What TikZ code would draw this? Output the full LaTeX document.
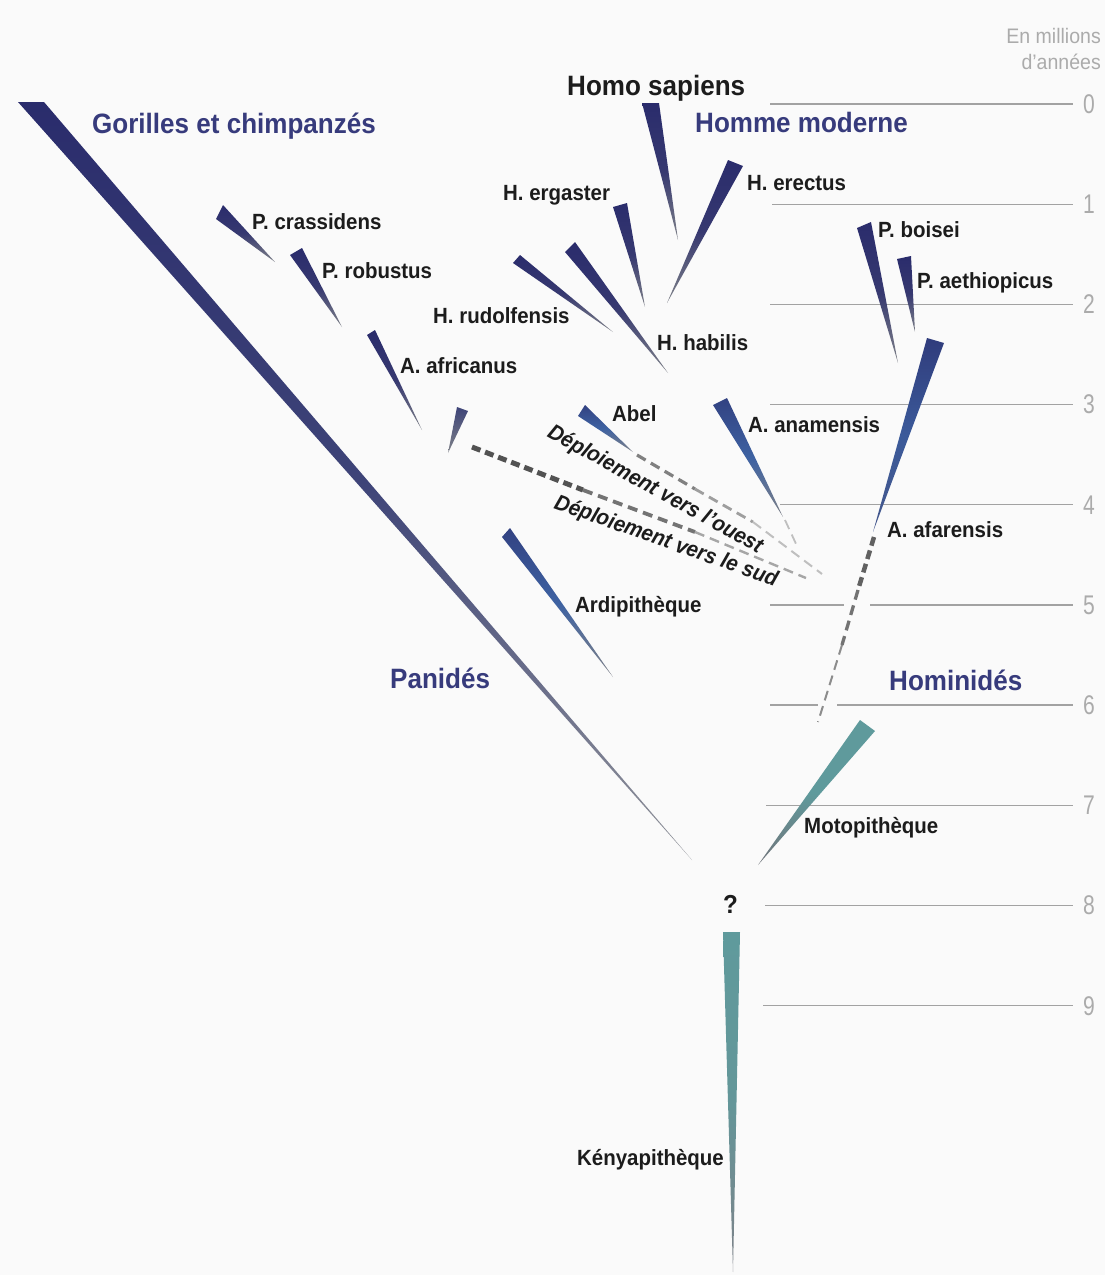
\documentclass[tikz,border=0pt]{standalone}
\usepackage{fontspec}
\setmainfont{Liberation Sans}[FakeStretch=0.93]
\newfontfamily\numfont{Liberation Sans}[FakeStretch=0.78]
\definecolor{bgc}{HTML}{FAFAFA}
\definecolor{navy}{HTML}{2A2C6C}
\definecolor{navymid}{HTML}{3E4478}
\definecolor{midblue}{HTML}{3E62A2}
\definecolor{tealc}{HTML}{5F9A9C}
\definecolor{tipgrey}{HTML}{7E8188}
\definecolor{labblue}{HTML}{373B7C}
\definecolor{labblack}{HTML}{1C1C1C}
\definecolor{scalegrey}{HTML}{ABABAB}
\definecolor{linegrey}{HTML}{A2A2A2}
\tikzset{
  lab/.style={font=\bfseries\fontsize{22}{24}\selectfont, text=labblack, inner sep=0pt, anchor=base west},
  biglab/.style={font=\bfseries\fontsize{28}{30}\selectfont, text=labblue, inner sep=0pt, anchor=base west},
  deplab/.style={font=\bfseries\itshape\fontsize{22}{24}\selectfont, text=labblack, inner sep=0pt},
  scalenum/.style={font=\numfont\fontsize{27}{29}\selectfont, text=scalegrey, inner sep=0pt},
  scaleline/.style={draw=linegrey, line width=1.3pt},
  unitlab/.style={font=\fontsize{21}{23}\selectfont, text=scalegrey, inner sep=0pt, anchor=east},
  navywedge/.style={top color=navy, bottom color=tipgrey, middle color=navy!85!tipgrey},
  bluewedge/.style={top color=navy!60!midblue, bottom color=tipgrey, middle color=midblue},
  tealwedge/.style={top color=tealc, bottom color=tipgrey!90!black, middle color=tealc},
  dashA/.style={line width=5pt, draw=#1, dash pattern=on 9pt off 5pt},
  dashB/.style={line width=3pt, draw=#1, dash pattern=on 10pt off 6pt},
  dashC/.style={line width=2pt, draw=#1, dash pattern=on 10pt off 6pt},
}
\begin{document}
\begin{tikzpicture}[x=1pt,y=-1pt]
\fill[bgc] (0,0) rectangle (1105,1275);
\useasboundingbox (0,0) rectangle (1105,1275);

% ---------- time scale ----------
\node[unitlab] (u1) at (1101,36) {En millions};
\node[unitlab] (u2) at (1101,62) {d'années};
\foreach \k/\xs in {0/770,1/772,2/770,3/770,4/780,7/766,8/765,9/763}{
  \node[scalenum] (s\k) at (1089,{104+100.2*\k}) {\k};
  \draw[scaleline, shorten >=10pt] (\xs,{104+100.2*\k}) -- (s\k.west);
}
\node[scalenum] (s5) at (1089,605) {5};
\draw[scaleline] (770,605) -- (844,605);
\draw[scaleline, shorten >=10pt] (870,605) -- (s5.west);
\node[scalenum] (s6) at (1089,705) {6};
\draw[scaleline] (770,705) -- (818,705);
\draw[scaleline, shorten >=10pt] (837,705) -- (s6.west);

% ---------- wedges ----------
% Gorilles et chimpanzes
\shade[top color=navy, bottom color=tipgrey!85!white, middle color=navymid] (18,102) -- (44,102) -- (692,860) -- cycle;
% Paranthropes and australopithecines (left)
\shade[navywedge] (223,205) -- (216,219) -- (275,262) -- cycle;
\shade[navywedge] (290,255) -- (302,248) -- (342,327) -- cycle;
\shade[navywedge] (367,335) -- (375,330) -- (422,430) -- cycle;
\shade[top color=navymid, bottom color=tipgrey] (457,407) -- (468,411) -- (448,453) -- cycle;
% Homo
\shade[navywedge] (642,103) -- (659,103) -- (678,240) -- cycle;
\shade[navywedge] (728,160) -- (743,166) -- (667,303) -- cycle;
\shade[navywedge] (613,207) -- (627,203) -- (645,307) -- cycle;
\shade[navywedge] (513,263) -- (520,255) -- (613,332) -- cycle;
\shade[navywedge] (565,252) -- (575,242) -- (668,373) -- cycle;
% Paranthropes (right)
\shade[navywedge] (857,228) -- (871,222) -- (898,363) -- cycle;
\shade[navywedge] (897,259) -- (911,256) -- (915,332) -- cycle;
% blue wedges
\shade[bluewedge] (585,405) -- (578,416) -- (633,452) -- cycle;
\shade[bluewedge] (713,405) -- (727,398) -- (783,517) -- cycle;
\shade[bluewedge] (502,537) -- (510,528) -- (613,677) -- cycle;
\shade[top color=navy!70!midblue, bottom color=navy!40!midblue!80!tipgrey, middle color=midblue!85!navy] (927,338) -- (944,343) -- (873,532) -- cycle;
% teal wedges
\shade[tealwedge] (860,720) -- (875,731) -- (758,865) -- cycle;
\shade[top color=tealc, bottom color=tipgrey, middle color=tealc!85!tipgrey] (723,932) -- (740,932) -- (733,1272) -- cycle;

% ---------- dashed connectors ----------
\coordinate (afa0) at (874,537);
\coordinate (afa1) at (858,590);
\coordinate (afa2) at (842,645);
\coordinate (afa3) at (818,722);
\draw[dashA=black!62, line width=4.5pt] (afa0) -- (afa1);
\draw[dashB=black!55, line width=3.3pt] (afa1) -- (afa2);
\draw[dashC=black!45] (afa2) -- (afa3);

\coordinate (sud0) at (472,447);
\coordinate (sud1) at (583,490);
\coordinate (sud2) at (695,532);
\coordinate (sud3) at (806,578);
\draw[dashA=black!68] (sud0) -- (sud1);
\draw[dashB=black!55, line width=3.8pt] (sud1) -- (sud2);
\draw[dashC=black!35, line width=2.4pt] (sud2) -- (sud3);

\coordinate (oue0) at (637,455);
\coordinate (oue1) at (695,489);
\coordinate (oue2) at (753,522);
\coordinate (oue3) at (822,574);
\draw[dashB=black!50, line width=3.2pt] (oue0) -- (oue1);
\draw[dashB=black!38, line width=2.8pt] (oue1) -- (oue2);
\draw[dashC=black!25] (oue2) -- (oue3);

\coordinate (ana0) at (785,520);
\coordinate (ana1) at (797,546);
\draw[dashC=black!25, line width=1.8pt] (ana0) -- (ana1);

% ---------- labels ----------
\node[biglab] (gor) at (92,133) {Gorilles et chimpanzés};
\node[biglab, text=labblack] (sap) at (567,95) {Homo sapiens};
\node[biglab] (hmod) at (695,132) {Homme moderne};
\node[lab] (cras) at (252,229) {P. crassidens};
\node[lab] (rob) at (322,278) {P. robustus};
\node[lab] (afr) at (400,373) {A. africanus};
\node[lab] (erg) at (503,200) {H. ergaster};
\node[lab] (ere) at (747,190) {H. erectus};
\node[lab] (rud) at (433,323) {H. rudolfensis};
\node[lab] (hab) at (657,350) {H. habilis};
\node[lab] (boi) at (878,237) {P. boisei};
\node[lab] (aet) at (917,288) {P. aethiopicus};
\node[lab] (abel) at (612,421) {Abel};
\node[lab] (ana) at (748,432) {A. anamensis};
\node[lab] (afa) at (887,537) {A. afarensis};
\node[lab] (ardi) at (575,612) {Ardipithèque};
\node[biglab] (pan) at (390,688) {Panidés};
\node[biglab] (hom) at (889,690) {Hominidés};
\node[lab] (moto) at (804,833) {Motopithèque};
\node[lab, font=\bfseries\fontsize{26}{28}\selectfont] (q) at (723,913) {?};
\node[lab] (keny) at (577,1165) {Kényapithèque};
\node[deplab, rotate=-29] (ouest) at (655,490) {Déploiement vers l'ouest};
\node[deplab, rotate=-19.5] (sud) at (666,542) {Déploiement vers le sud};
\end{tikzpicture}
\end{document}
